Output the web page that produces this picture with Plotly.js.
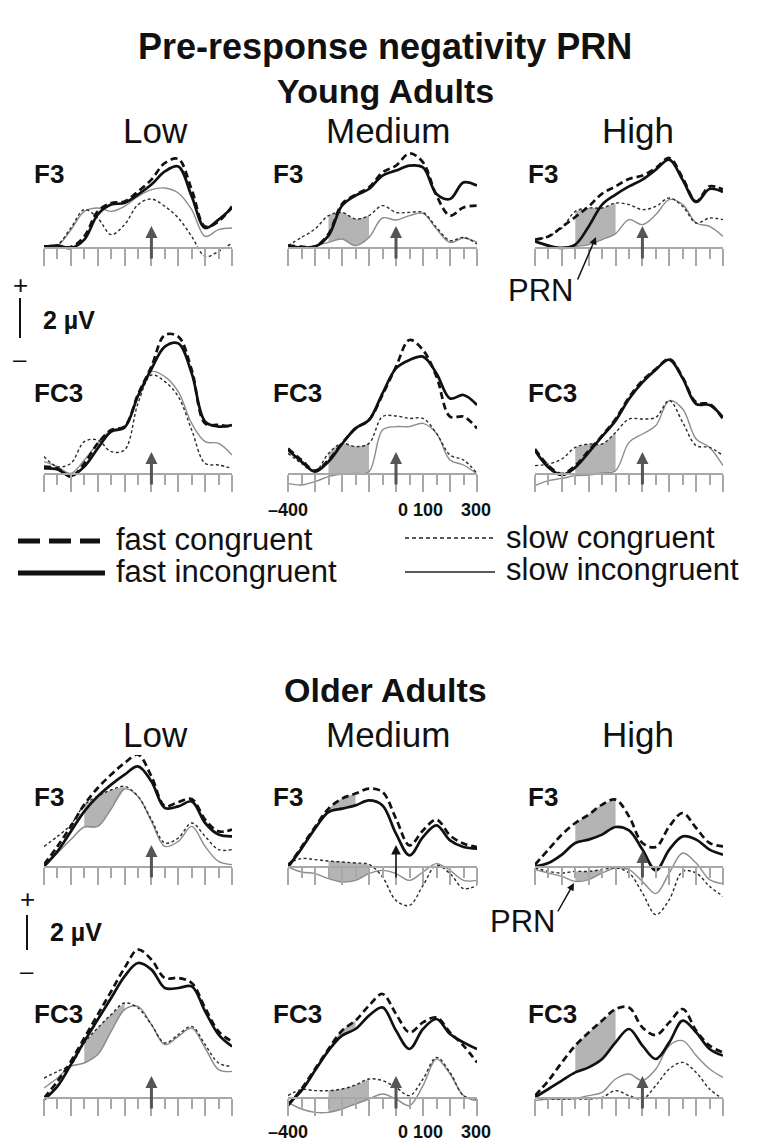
<!DOCTYPE html>
<html><head><meta charset="utf-8">
<script src="https://cdn.plot.ly/plotly-3.0.1.min.js"></script>
<style>html,body{margin:0;padding:0;background:#fff}#chart{width:771px;height:1144px}</style>
</head><body><div id="chart"></div>
<script>
// ---------------- DATA (µV, sampled every 50 ms) ----------------
const times = [-400,-350,-300,-250,-200,-150,-100,-50,0,50,100,150,200,250,300];

// Young adults
const yLowF3FC  = [0.08,0.08,0.05,0.58,1.83,2.25,2.33,2.83,3.42,4.25,4.45,2.92,1.08,1.33,2.08];
const yLowF3FI  = [0.05,0.12,0.00,0.42,1.67,2.17,2.25,2.67,3.17,3.83,4.08,2.58,1.00,1.42,2.00];
const yLowF3SC  = [0.08,0.17,1.00,1.92,1.50,0.67,1.17,2.17,2.45,2.08,1.50,0.58,-0.42,-0.17,0.25];
const yLowF3SI  = [0.05,0.12,0.90,1.83,2.00,1.83,2.08,2.58,2.92,3.00,2.75,1.92,0.58,0.92,1.00];

const yMedF3FC  = [0.12,0.07,0.07,0.70,2.20,2.67,3.03,3.78,4.12,4.73,4.28,2.62,1.62,2.03,2.12];
const yMedF3FI  = [0.07,0.03,0.07,0.62,2.12,2.62,2.95,3.62,3.87,4.12,4.03,2.70,2.45,3.28,3.12];
const yMedF3SC  = [0.12,0.53,0.95,1.62,1.78,1.45,1.62,2.12,1.78,1.78,1.78,1.03,0.37,0.53,0.20];
const yMedF3SI  = [0.07,0.03,0.12,0.28,0.45,0.12,0.53,1.50,1.40,1.62,1.73,0.95,0.28,0.50,0.28];

const yHighF3FC = [0.42,0.58,1.05,1.55,2.08,2.72,3.08,3.45,3.62,4.00,4.50,3.50,2.33,3.08,2.92];
const yHighF3FI = [0.33,0.12,0.00,0.17,1.08,2.17,2.67,3.08,3.42,3.92,4.42,3.40,2.30,2.95,2.80];
const yHighF3SC = [0.42,0.58,1.00,1.83,2.00,2.00,2.25,2.17,1.92,2.08,2.50,2.08,1.25,1.50,1.42];
const yHighF3SI = [0.33,0.08,0.05,0.08,0.17,0.42,0.72,1.42,1.17,1.67,2.42,2.17,1.25,1.08,0.58];

const yLowFC3FC = [0.37,0.28,-0.13,0.53,1.53,2.20,2.37,3.98,5.37,6.95,6.87,5.20,2.53,2.45,2.37];
const yLowFC3FI = [0.28,0.23,-0.10,0.37,1.28,2.12,2.33,3.90,5.25,6.37,6.53,5.03,2.62,2.37,2.45];
const yLowFC3SC = [0.87,0.37,0.53,1.62,1.70,1.12,1.20,3.53,4.95,4.62,3.87,2.20,0.53,0.45,0.28];
const yLowFC3SI = [0.62,0.37,0.03,0.70,1.53,2.20,2.37,3.87,5.12,4.87,4.12,2.53,1.62,1.53,0.95];

const yMedFC3FC = [1.28,0.70,0.17,0.70,1.53,2.28,2.70,3.95,5.37,6.70,6.20,4.87,2.87,2.87,2.28];
const yMedFC3FI = [1.20,0.62,0.12,0.62,1.50,2.28,2.70,4.03,5.28,5.70,5.87,5.03,3.78,3.95,3.45];
const yMedFC3SC = [1.03,0.53,0.12,1.03,1.53,1.37,1.53,2.87,2.90,2.78,2.78,2.03,0.95,0.70,0.03];
const yMedFC3SI = [-0.47,-0.55,-0.38,-0.13,0.00,0.03,0.12,2.20,2.37,2.37,2.53,2.03,0.70,0.45,0.00];

const yHighFC3FC = [1.25,0.42,0.00,0.42,1.17,1.92,2.75,3.83,4.67,5.25,5.75,4.83,3.58,3.50,2.75];
const yHighFC3FI = [1.17,0.33,-0.05,0.33,1.08,1.88,2.67,3.75,4.58,5.22,5.72,4.78,3.50,3.45,2.83];
const yHighFC3SC = [0.42,0.50,0.75,1.33,1.50,1.50,2.08,2.75,2.75,2.83,3.67,2.58,1.42,1.33,0.92];
const yHighFC3SI = [-0.58,-0.33,-0.22,-0.08,-0.05,0.05,0.17,1.58,2.00,2.42,3.67,3.25,1.75,1.33,0.42];

// Older adults
const oLowF3FC  = [0.12,1.03,2.03,3.12,3.95,4.62,5.20,5.62,4.53,3.05,3.25,3.40,2.37,1.78,1.87];
const oLowF3FI  = [0.03,0.78,1.78,2.78,3.53,4.12,4.62,5.03,4.28,2.95,3.03,3.28,2.20,1.62,1.53];
const oLowF3SC  = [1.03,1.53,2.12,3.10,3.55,3.85,4.03,3.53,2.37,1.20,1.45,2.20,1.53,0.87,0.87];
const oLowF3SI  = [0.03,0.70,1.37,2.00,2.03,2.90,3.90,3.53,2.28,1.03,1.28,2.03,1.03,0.28,0.12];

const oMedF3FC  = [0.00,1.00,2.00,2.92,3.42,3.67,3.92,3.75,2.42,1.08,1.83,2.37,1.58,1.17,1.00];
const oMedF3FI  = [0.00,0.92,1.92,2.75,2.92,3.08,3.33,3.08,1.67,0.58,1.50,2.08,1.33,1.00,0.92];
const oMedF3SC  = [0.17,0.42,0.37,0.30,0.25,0.20,0.13,-0.50,-1.67,-1.92,-0.92,0.08,-0.33,-1.08,-0.92];
const oMedF3SI  = [0.00,-0.25,-0.33,-0.58,-0.75,-0.67,-0.33,-0.17,-0.33,-0.67,-0.25,0.17,-0.17,-0.67,-0.67];

const oHighF3FC = [0.12,0.87,1.62,2.20,2.62,3.12,3.37,2.53,1.20,1.00,2.03,2.70,1.95,1.20,1.03];
const oHighF3FI = [0.03,0.20,0.62,1.20,1.37,1.62,2.00,1.83,0.87,-0.17,0.87,1.53,1.37,0.87,0.62];
const oHighF3SC = [-0.05,-0.22,-0.30,-0.22,-0.22,-0.13,-0.05,-0.30,-1.30,-2.38,-1.63,-0.22,-0.30,-0.97,-1.47];
const oHighF3SI = [-0.13,-0.30,-0.47,-0.72,-0.63,-0.30,-0.05,-0.13,-0.72,-1.33,-0.30,0.70,0.20,-0.63,-0.83];

const oLowFC3FC = [0.00,0.83,1.83,3.00,4.17,5.33,6.50,7.42,6.92,6.00,6.00,5.75,4.50,3.33,2.83];
const oLowFC3FI = [-0.08,0.58,1.67,2.83,3.92,5.00,6.08,6.75,6.42,5.50,5.50,5.58,4.33,3.17,2.58];
const oLowFC3SC = [1.00,1.33,1.67,2.75,3.50,4.17,4.75,4.50,3.67,2.75,3.17,3.58,2.67,1.75,1.58];
const oLowFC3SI = [0.50,1.00,1.58,1.75,2.17,3.33,4.42,4.58,3.67,2.67,3.08,3.50,2.50,1.42,1.33];

const oMedFC3FC = [-0.38,0.45,1.45,2.45,3.37,3.87,4.62,5.20,4.20,3.28,3.78,4.03,3.28,2.62,1.78];
const oMedFC3FI = [-0.30,0.37,1.37,2.37,3.12,3.45,4.12,4.53,3.37,2.45,3.45,3.95,3.20,2.78,2.45];
const oMedFC3SC = [0.12,0.42,0.37,0.37,0.45,0.65,0.95,0.87,0.53,0.12,0.95,2.03,1.28,0.12,-0.05];
const oMedFC3SI = [-0.22,-0.55,-0.72,-0.72,-0.55,-0.30,-0.05,0.20,-0.05,-0.38,0.62,1.95,1.20,0.12,-0.13];

const oHighFC3FC = [0.12,0.87,1.78,2.62,3.28,3.87,4.45,4.53,3.53,3.15,3.78,4.45,3.37,2.62,2.28];
const oHighFC3FI = [0.03,0.45,0.87,1.28,1.53,1.95,2.78,3.45,2.62,1.95,2.78,3.87,3.28,2.45,2.12];
const oHighFC3SC = [0.03,-0.05,-0.05,-0.05,-0.05,0.03,0.37,0.12,-0.05,0.62,1.45,1.78,1.28,0.45,-0.05];
const oHighFC3SI = [-0.13,-0.05,-0.05,-0.02,0.12,0.28,0.95,1.20,0.87,1.45,2.62,2.87,2.12,1.45,1.03];

// Text
const mainTitle = 'Pre-response negativity PRN';
const groupTitles = ['Young Adults', 'Older Adults'];
const columnLabels = ['Low', 'Medium', 'High'];
const channelLabels = ['F3', 'FC3'];
const legendLabels = ['fast congruent', 'fast incongruent', 'slow congruent', 'slow incongruent'];
const timeTickLabels = ['\u2013400', '0 100', '300'];
const scaleLabel = '2 \u00b5V';
const prnLabel = 'PRN';

// ---------------- PANEL TABLE ----------------
const panels = [
  {fc:yLowF3FC, fi:yLowF3FI, sc:yLowF3SC, si:yLowF3SI, row:0, col:0, shade:[]},
  {fc:yMedF3FC, fi:yMedF3FI, sc:yMedF3SC, si:yMedF3SI, row:0, col:1, shade:[['sc','si',-250,-100]]},
  {fc:yHighF3FC, fi:yHighF3FI, sc:yHighF3SC, si:yHighF3SI, row:0, col:2, shade:[['sc','si',-250,-100]]},
  {fc:yLowFC3FC, fi:yLowFC3FI, sc:yLowFC3SC, si:yLowFC3SI, row:1, col:0, shade:[]},
  {fc:yMedFC3FC, fi:yMedFC3FI, sc:yMedFC3SC, si:yMedFC3SI, row:1, col:1, shade:[['sc','si',-250,-100]]},
  {fc:yHighFC3FC, fi:yHighFC3FI, sc:yHighFC3SC, si:yHighFC3SI, row:1, col:2, shade:[['sc','si',-250,-100]]},
  {fc:oLowF3FC, fi:oLowF3FI, sc:oLowF3SC, si:oLowF3SI, row:2, col:0, shade:[['sc','si',-250,-100]]},
  {fc:oMedF3FC, fi:oMedF3FI, sc:oMedF3SC, si:oMedF3SI, row:2, col:1, shade:[['fc','fi',-250,-150],['sc','si',-250,-100]], darkArrow:true},
  {fc:oHighF3FC, fi:oHighF3FI, sc:oHighF3SC, si:oHighF3SI, row:2, col:2, shade:[['fc','fi',-250,-100],['sc','si',-250,-150]], arrowTip:0.8},
  {fc:oLowFC3FC, fi:oLowFC3FI, sc:oLowFC3SC, si:oLowFC3SI, row:3, col:0, shade:[['sc','si',-250,-100]]},
  {fc:oMedFC3FC, fi:oMedFC3FI, sc:oMedFC3SC, si:oMedFC3SI, row:3, col:1, shade:[['fc','fi',-250,-150],['sc','si',-250,-100]]},
  {fc:oHighFC3FC, fi:oHighFC3FI, sc:oHighFC3SC, si:oHighFC3SI, row:3, col:2, shade:[['fc','fi',-250,-100]]}
];

// ---------------- LAYOUT GEOMETRY ----------------
const W = 771, H = 1144, PX_PER_UV = 20;
const colX = [[44,232],[288,477],[535,723]];
const rowBase = [248, 474, 867, 1098];
const rowBand = [[135,305],[320,500],[755,935],[915,1140]];
const FONT = 'Liberation Sans, Arial, Helvetica, sans-serif';
const px = x => x / W;
const py = y => 1 - y / H;

const styles = {
  fc: {color:'#111', width:2.7, dash:'7px,4px'},
  fi: {color:'#111', width:2.7, dash:'solid'},
  sc: {color:'#2a2a2a', width:1.4, dash:'3px,2.5px'},
  si: {color:'#8c8c8c', width:1.4, dash:'solid'}
};

const data = [];
const layout = {
  width: W, height: H, margin:{l:0,r:0,t:0,b:0},
  paper_bgcolor:'#fff', plot_bgcolor:'rgba(0,0,0,0)', showlegend:false,
  font:{family:FONT, color:'#111'},
  annotations:[], shapes:[]
};

panels.forEach((p, i) => {
  const s = i === 0 ? '' : String(i + 1);
  const xa = 'x' + s, ya = 'y' + s;
  const [x0, x1] = colX[p.col];
  const base = rowBase[p.row];
  const [top, bot] = rowBand[p.row];
  layout['xaxis' + s] = {
    domain:[px(x0), px(x1)], range:[-400, 300], anchor:'free', position: py(base),
    showline:true, linecolor:'#a8a8a8', linewidth:2,
    ticks:'outside', tickmode:'linear', tick0:-400, dtick:100, ticklen:17, tickwidth:2, tickcolor:'#a8a8a8',
    minor:{ticks:'outside', tickmode:'linear', tick0:-400, dtick:50, ticklen:10, tickwidth:2, tickcolor:'#a8a8a8', showgrid:false},
    showticklabels:false, showgrid:false, zeroline:false, fixedrange:true
  };
  layout['yaxis' + s] = {
    domain:[py(bot), py(top)], range:[(base - bot) / PX_PER_UV, (base - top) / PX_PER_UV],
    anchor: xa, visible:false, fixedrange:true
  };
  // shaded PRN areas
  p.shade.forEach(([up, lo, t0, t1]) => {
    const idx = times.map((t, k) => k).filter(k => times[k] >= t0 && times[k] <= t1);
    data.push({x: idx.map(k => times[k]), y: idx.map(k => p[lo][k]), xaxis:xa, yaxis:ya,
      mode:'lines', line:{width:0, shape:'spline'}, hoverinfo:'skip'});
    data.push({x: idx.map(k => times[k]), y: idx.map(k => p[up][k]), xaxis:xa, yaxis:ya,
      mode:'lines', line:{width:0, shape:'spline'}, fill:'tonexty', fillcolor:'#b4b4b4', hoverinfo:'skip'});
  });
  ['si','sc','fi','fc'].forEach(k => {
    data.push({x: times, y: p[k], xaxis:xa, yaxis:ya, mode:'lines',
      line:{color:styles[k].color, width:styles[k].width, dash:styles[k].dash, shape:'spline', smoothing:1},
      hoverinfo:'skip'});
  });
  // response arrow at 0 ms
  layout.annotations.push({xref:xa, yref:ya, axref:xa, ayref:ya, x:0, y:p.arrowTip || 1.1, ax:0, ay:-0.6,
    text:'', showarrow:true, arrowhead:2, arrowsize:p.darkArrow ? 1.2 : 0.8,
    arrowwidth:p.darkArrow ? 1.6 : 3, arrowcolor:p.darkArrow ? '#111' : '#555'});
  // channel label
  const chY = [174, 393, 797, 1014][p.row];
  const chX = [32, 271, 526][p.col];
  layout.annotations.push({xref:'paper', yref:'paper', x:px(chX), y:py(chY), xanchor:'left', yanchor:'middle',
    text:'<b>' + channelLabels[p.row % 2] + '</b>', showarrow:false, font:{size:26, family:FONT, color:'#111'}});
});

function txt(text, x, y, size, opts) {
  layout.annotations.push(Object.assign({xref:'paper', yref:'paper', x:px(x), y:py(y), xanchor:'center', yanchor:'middle',
    text:text, showarrow:false, font:{size:size, family:FONT, color:'#111'}}, opts || {}));
}

// titles
txt('<b>' + mainTitle + '</b>', 385, 46, 36);
txt('<b>' + groupTitles[0] + '</b>', 385, 91, 34);
txt('<b>' + groupTitles[1] + '</b>', 385, 690, 34);
const colCenters = [155, 388, 638];
columnLabels.forEach((c, j) => { txt(c, colCenters[j], 131, 35); txt(c, colCenters[j], 734, 35); });

// time labels under Medium FC3 panels
[510, 1132].forEach(y => {
  txt('<b>' + timeTickLabels[0] + '</b>', 288, y, 18);
  txt('<b>' + timeTickLabels[1] + '</b>', 421, y, 18);
  txt('<b>' + timeTickLabels[2] + '</b>', 476, y, 18);
});

// scale bars
[[20, 285, 298, 338, 320, 358], [27, 899, 915, 950, 932, 970]].forEach(([bx, plusY, b0, b1, labY, minusY]) => {
  txt('+', bx, plusY, 26);
  layout.shapes.push({type:'line', xref:'paper', yref:'paper', x0:px(bx), x1:px(bx), y0:py(b0), y1:py(b1), line:{color:'#111', width:2}});
  txt('<b>' + scaleLabel + '</b>', bx + 21, labY, 25, {xanchor:'left'});
  txt('\u2013', bx, minusY, 24);
});

// PRN labels with arrows
txt(prnLabel, 540, 290, 31);
layout.annotations.push({xref:'paper', yref:'paper', x:px(596), y:py(237), ax:-19, ay:44, text:'', showarrow:true,
  arrowhead:2, arrowsize:1, arrowwidth:1.5, arrowcolor:'#111'});
txt(prnLabel, 522, 921, 31);
layout.annotations.push({xref:'paper', yref:'paper', x:px(574), y:py(883), ax:-17, ay:30, text:'', showarrow:true,
  arrowhead:2, arrowsize:1, arrowwidth:1.5, arrowcolor:'#111'});

// legend
const legendItems = [
  {x0:18, x1:100, y:541, style:{color:'#111', width:5, dash:'22px,9px'}, tx:114, ty:539},
  {x0:18, x1:105, y:573, style:{color:'#111', width:5, dash:'solid'}, tx:114, ty:571},
  {x0:405, x1:495, y:538, style:{color:'#222', width:1.3, dash:'4px,3px'}, tx:504, ty:537},
  {x0:405, x1:495, y:572, style:{color:'#222', width:1.3, dash:'solid'}, tx:504, ty:569}
];
legendItems.forEach((it, j) => {
  layout.shapes.push({type:'line', xref:'paper', yref:'paper', x0:px(it.x0), x1:px(it.x1), y0:py(it.y), y1:py(it.y), line:it.style});
  txt(legendLabels[j], it.tx, it.ty, 31, {xanchor:'left'});
});

Plotly.newPlot('chart', data, layout, {staticPlot:true, displayModeBar:false});
</script>
</body></html>
